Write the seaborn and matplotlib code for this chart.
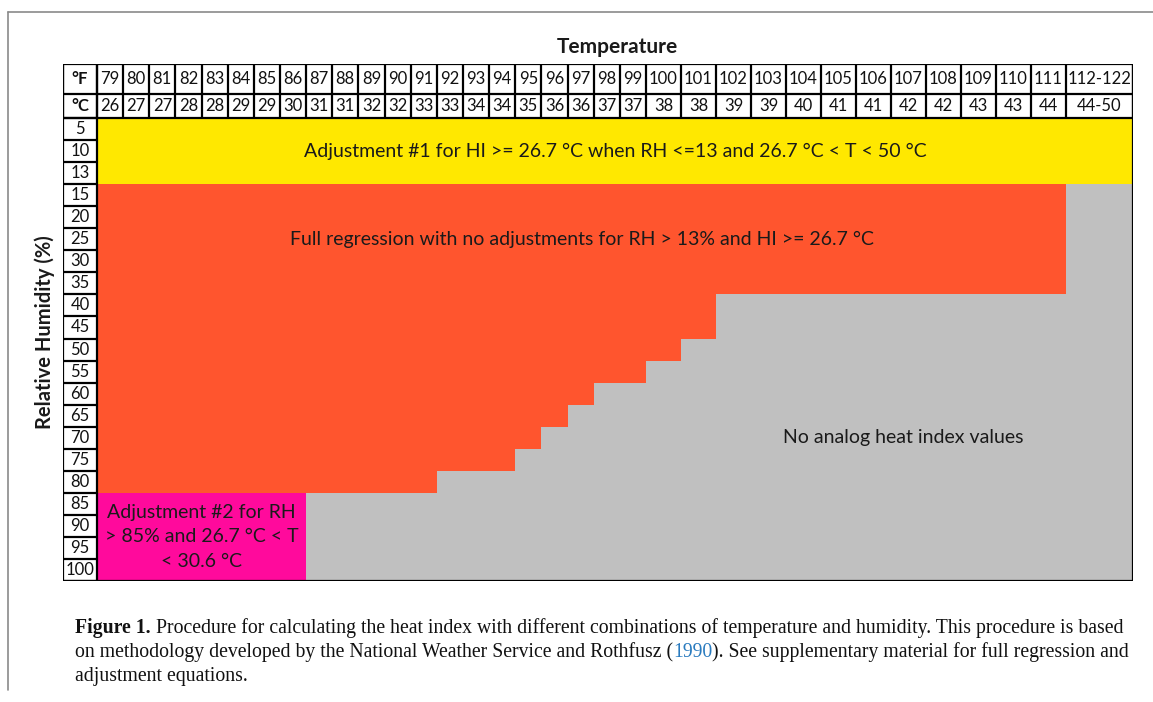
import numpy as np
import matplotlib
matplotlib.use("Agg")
import matplotlib.pyplot as plt
from matplotlib.colors import ListedColormap
import seaborn as sns

# ------------------------------------------------------------------ data
temp_f = ["79", "80", "81", "82", "83", "84", "85", "86", "87", "88", "89", "90",
          "91", "92", "93", "94", "95", "96", "97", "98", "99", "100", "101", "102",
          "103", "104", "105", "106", "107", "108", "109", "110", "111", "112-122"]
temp_c = ["26", "27", "27", "28", "28", "29", "29", "30", "31", "31", "32", "32",
          "33", "33", "34", "34", "35", "36", "36", "37", "37", "38", "38", "39",
          "39", "40", "41", "41", "42", "42", "43", "43", "44", "44-50"]
rh_labels = ["5", "10", "13", "15", "20", "25", "30", "35", "40", "45", "50", "55",
             "60", "65", "70", "75", "80", "85", "90", "95", "100"]

# Adjustment #1 rows (all temperatures)
adj1_rh = ["5", "10", "13"]
# Full regression: last °F column per RH row
full_rh = ["15", "20", "25", "30", "35", "40", "45", "50", "55", "60", "65", "70", "75", "80"]
full_max_f = ["111", "111", "111", "111", "111", "101", "101", "100", "99", "97", "96", "95", "94", "91"]
# Adjustment #2 rows and last °F column
adj2_rh = ["85", "90", "95", "100"]
adj2_max_f = "86"

region_labels = {
    "adj1": "Adjustment #1 for HI >= 26.7 °C when RH <=13 and 26.7 °C < T < 50 °C",
    "full": "Full regression with no adjustments for RH > 13% and HI >= 26.7 °C",
    "none": "No analog heat index values",
    "adj2": "Adjustment #2 for RH\n> 85% and 26.7 °C < T\n< 30.6 °C",
}
caption_parts = [
    [("Figure 1.", "bold", "#111111"),
     (" Procedure for calculating the heat index with different combinations of temperature and humidity. This procedure is based", "normal", "#111111")],
    [("on methodology developed by the National Weather Service and Rothfusz (", "normal", "#111111"),
     ("1990", "normal", "#2a7bbf"),
     ("). See supplementary material for full regression and", "normal", "#111111")],
    [("adjustment equations.", "normal", "#111111")],
]

# ------------------------------------------------------------------ style / layout
W, H = 1153, 702
C_YEL, C_ORG, C_PNK, C_GRY, C_WHT = "#FFE800", "#FF552E", "#FF0A9C", "#C0C0C0", "#FFFFFF"
col_w = [34] + [26.14] * 21 + [35] * 12 + [67]          # px widths of columns
row_h = [30, 24] + [22.05] * 21                          # px heights of rows
tbl_left, tbl_top = 63, 64

sns.set_style("white")
plt.rcParams["font.family"] = ["Lato", "DejaVu Sans"]

# ------------------------------------------------------------------ build matrix
nr, nc = 2 + len(rh_labels), 1 + len(temp_f)
codes = np.full((nr, nc), 3.0)
codes[:2, :] = 4
codes[:, 0] = 4
for rh in adj1_rh:
    codes[2 + rh_labels.index(rh), 1:] = 0
for rh, mf in zip(full_rh, full_max_f):
    codes[2 + rh_labels.index(rh), 1:2 + temp_f.index(mf)] = 1
for rh in adj2_rh:
    codes[2 + rh_labels.index(rh), 1:2 + temp_f.index(adj2_max_f)] = 2

annot = np.full((nr, nc), "", dtype=object)
annot[0, :] = ["°F"] + temp_f
annot[1, :] = ["°C"] + temp_c
annot[2:, 0] = rh_labels

# ------------------------------------------------------------------ figure
fig = plt.figure(figsize=(W / 100, H / 100), dpi=100)
xe = np.concatenate([[0], np.cumsum(col_w)])
ye = np.concatenate([[0], np.cumsum(row_h)])
ax = fig.add_axes([tbl_left / W, 1 - (tbl_top + ye[-1]) / H, xe[-1] / W, ye[-1] / H])


def make_scale(px):
    idx = np.arange(len(px), dtype=float)

    def fwd(v):
        v = np.asarray(v, dtype=float)
        out = np.interp(v, idx, px)
        out = np.where(v < 0, px[0] + v * (px[1] - px[0]), out)
        out = np.where(v > idx[-1], px[-1] + (v - idx[-1]) * (px[-1] - px[-2]), out)
        return out

    def inv(p):
        p = np.asarray(p, dtype=float)
        out = np.interp(p, px, idx)
        out = np.where(p < px[0], (p - px[0]) / (px[1] - px[0]), out)
        out = np.where(p > px[-1], idx[-1] + (p - px[-1]) / (px[-1] - px[-2]), out)
        return out
    return fwd, inv


fx, ix = make_scale(xe)
fy, iy = make_scale(ye)
ax.set_xscale("function", functions=(fx, ix))
ax.set_yscale("function", functions=(fy, iy))

sns.heatmap(codes, ax=ax, cmap=ListedColormap([C_YEL, C_ORG, C_PNK, C_GRY, C_WHT]),
            vmin=-0.5, vmax=4.5, cbar=False, annot=annot, fmt="",
            annot_kws=dict(fontsize=12, color="#111111"),
            xticklabels=False, yticklabels=False, linewidths=0)
ax.set_xlim(0, nc)
ax.set_ylim(nr, 0)
for t in ax.texts:
    if t.get_text() in ("°F", "°C"):
        t.set_fontweight("bold")

# table borders
lw = 1.6
ax.hlines([0, 1, 2], 0, nc, color="black", lw=lw)
ax.vlines(np.arange(0, nc + 1), 0, 2, color="black", lw=lw)
ax.hlines(np.arange(2, nr + 1), 0, 1, color="black", lw=lw)
ax.vlines([0, 1, nc], 0, nr, color="black", lw=lw)
ax.hlines([nr], 0, nc, color="black", lw=lw)
for s in ax.spines.values():
    s.set_visible(False)


def mid(c0, c1, r0, r1):
    """visual centre of the cell block [c0,c1) x [r0,r1) in data coords"""
    return float(ix((fx(c0) + fx(c1)) / 2)), float(iy((fy(r0) + fy(r1)) / 2))


# region labels
tk = dict(ha="center", va="center", fontsize=14, color="#1a1a1a")
r_a1 = 2 + rh_labels.index(adj1_rh[0])
ax.text(*mid(1, nc, r_a1, r_a1 + len(adj1_rh)), region_labels["adj1"], **tk)
r_f = 2 + rh_labels.index(full_rh[0])
n_top = full_max_f.count(full_max_f[0])
ax.text(*mid(1, 2 + temp_f.index(full_max_f[0]), r_f, r_f + n_top), region_labels["full"], **tk)
r_a2 = 2 + rh_labels.index(adj2_rh[0])
ax.text(*mid(1, 2 + temp_f.index(adj2_max_f), r_a2, r_a2 + len(adj2_rh)), region_labels["adj2"],
        linespacing=1.55, **tk)

# overlay in pixel coords
oax = fig.add_axes([0, 0, 1, 1])
oax.set_xlim(0, W)
oax.set_ylim(H, 0)
oax.axis("off")
oax.patch.set_alpha(0)
oax.text(903, 438, region_labels["none"], **tk)
oax.text(617, 47, "Temperature", ha="center", va="center", fontsize=15,
         fontweight="bold", color="#1a1a1a")
oax.text(45, 332, "Relative Humidity (%)", ha="center", va="center", rotation=90,
         fontsize=14.5, fontweight="bold", color="#1a1a1a")
oax.plot([8, W], [12, 12], color="#8a8a8a", lw=1.2)
oax.plot([8, 8], [12, 690], color="#8a8a8a", lw=1.2)

# caption (serif), fit first line to width
renderer = fig.canvas.get_renderer()
cap_font = ["Liberation Serif", "DejaVu Serif"]


def line_width(parts, size):
    tot = 0
    for s, wgt, _ in parts:
        t = oax.text(0, 0, s, fontsize=size, fontweight=wgt, family=cap_font)
        tot += t.get_window_extent(renderer).width
        t.remove()
    return tot


base = 12.5
size = base * 1050 / line_width(caption_parts[0], base)
for (parts, y) in zip(caption_parts, [628, 652, 676]):
    prev = None
    for s, wgt, col in parts:
        if prev is None:
            prev = oax.text(75, y, s, fontsize=size, fontweight=wgt, color=col,
                            family=cap_font, va="center", ha="left")
        else:
            prev = oax.annotate(s, xy=(1, 0), xycoords=prev, va="bottom", ha="left",
                                fontsize=size, fontweight=wgt, color=col, family=cap_font)

fig.savefig("out.png", dpi=100)
